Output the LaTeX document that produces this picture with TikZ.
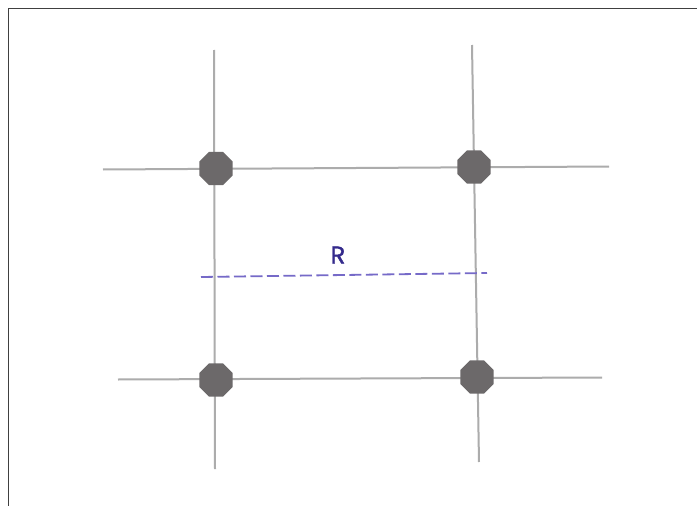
\documentclass[tikz,border=0pt]{standalone}
\usepackage{fontspec}
\setmainfont{Poppins}
\newfontfamily\rfont{Poppins}[BoldFont=Poppins, BoldFeatures={FakeBold=1.6}]
\usetikzlibrary{shapes.geometric}
\definecolor{gridgray}{RGB}{172,172,172}
\definecolor{dotgray}{RGB}{108,105,106}
\definecolor{dashblue}{RGB}{118,106,200}
\definecolor{labelblue}{RGB}{52,42,140}
\tikzset{
  gridline/.style={draw=gridgray, line width=2pt},
  junction/.style={regular polygon, regular polygon sides=8, fill=dotgray, draw=none, inner sep=0pt, minimum size=36pt},
  radiusline/.style={draw=dashblue, line width=1.8pt, dash pattern=on 12pt off 4.5pt},
  framestyle/.style={draw=black!75, line width=1pt}
}
\begin{document}
\begin{tikzpicture}[x=1pt,y=-1pt]
\useasboundingbox (0,0) rectangle (697,506);
\fill[white] (0,0) rectangle (697,506);
% frame
\coordinate (fa) at (8,506);
\coordinate (fb) at (8,8);
\coordinate (fc) at (697,8);
\draw[framestyle] (fa) -- (fb) -- (fc);
% grid line ends
\coordinate (h1a) at (103,169.5);
\coordinate (h1b) at (609,166.5);
\coordinate (h2a) at (118,379.5);
\coordinate (h2b) at (602,377.5);
\coordinate (v1a) at (214,50);
\coordinate (v1b) at (215,469);
\coordinate (v2a) at (472,45);
\coordinate (v2b) at (479,462);
\draw[gridline] (h1a) -- (h1b);
\draw[gridline] (h2a) -- (h2b);
\draw[gridline] (v1a) -- (v1b);
\draw[gridline] (v2a) -- (v2b);
% dashed radius
\coordinate (ra) at (201,277);
\coordinate (rb) at (487,273);
\draw[radiusline] (ra) -- (rb);
\node[text=labelblue, font=\rfont\bfseries\fontsize{24}{26}\selectfont, inner sep=0pt] (rlabel) at (338,255) {R};
% junctions
\node[junction] (tl) at (216,168.5) {};
\node[junction] (tr) at (474,167) {};
\node[junction] (bl) at (216,380) {};
\node[junction] (br) at (477,377) {};
\end{tikzpicture}
\end{document}
